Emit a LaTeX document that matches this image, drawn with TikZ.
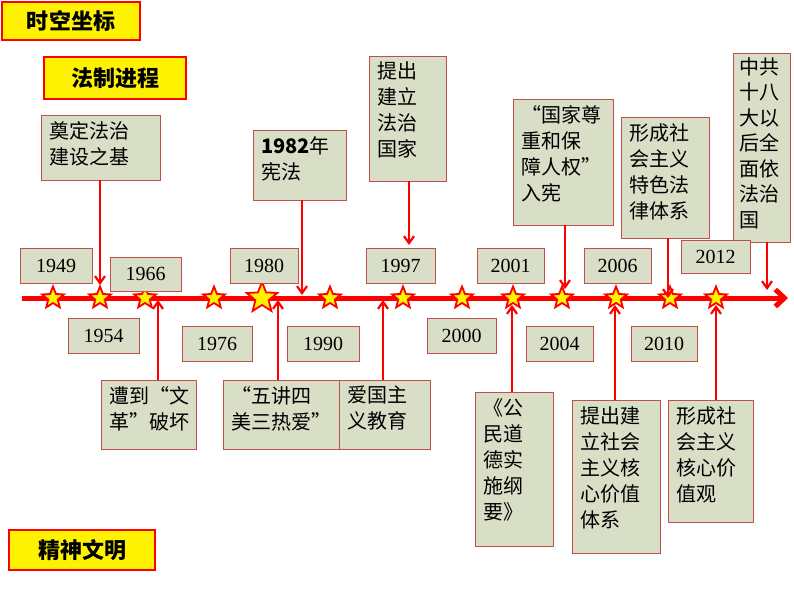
\documentclass[tikz,border=0pt]{standalone}
\usepackage{fontspec}
\setmainfont{Liberation Serif}
\newfontfamily\cjk{Noto Sans CJK SC}
\usetikzlibrary{shapes.geometric,arrows.meta}
\definecolor{boxfill}{HTML}{D8DFC6}
\definecolor{boxline}{HTML}{C0504D}
\definecolor{tlred}{HTML}{FF0000}
\tikzset{
 x=1pt,y=-1pt,
 tbox/.style={draw=boxline,fill=boxfill,line width=0.8pt,inner sep=0pt},
 hbox/.style={draw=tlred,fill=yellow,line width=1.5pt,inner sep=0pt},
 ttext/.style={anchor=north west,align=left,font=\cjk\fontsize{20}{26}\selectfont,inner sep=0pt},
 ytext/.style={font=\fontsize{20}{22}\selectfont,inner sep=0pt},
 htext/.style={font=\cjk\bfseries\fontsize{22}{26}\selectfont,inner sep=0pt},
 arr/.style={draw=tlred,line width=2.2pt,-{Straight Barb[length=7pt,width=10pt]}},
 star5/.style={star,star points=5,star point ratio=2.3,fill=yellow,draw=tlred,line width=1.8pt,inner sep=0pt,minimum size=#1},
}
\newcommand{\tb}[6]{\draw[tbox] (#2,#3) rectangle (#4,#5); \node[ttext] (#1) at ({#2+8},{#3+6}) {#6};}
\newcommand{\yb}[6]{\draw[tbox] (#2,#3) rectangle (#4,#5); \node[ytext] (#1) at ({(#2+#4)/2},{(#3+#5)/2}) {#6};}
\begin{document}
\begin{tikzpicture}
\useasboundingbox (0,0) rectangle (794,596);
\fill[white] (0,0) rectangle (794,596);
% headers
\draw[hbox] (2,2) rectangle (140,40); \node[htext] (h1) at (71,21) {时空坐标};
\draw[hbox] (44,57) rectangle (186,99); \node[htext] (h2) at (115,78) {法制进程};
\draw[hbox] (9,530) rectangle (155,570); \node[htext] (h3) at (82,550) {精神文明};
% timeline
\coordinate (tl0) at (22,298); \coordinate (tl1) at (788,298);
\draw[draw=tlred,line width=5pt,-{Straight Barb[length=9pt,width=17pt]}] (tl0) -- (tl1);
% stars
\foreach \x/\n in {53/a,100/b,145/c,214/d,330/f,403/g,462/h,513/i,562/j,616/k,670/l,716/m}
  \node[star5=23pt] (s\n) at (\x,298) {};
\node[star5=32pt] (se) at (262,298) {};
% top boxes
\tb{t1}{41}{115}{160}{180}{奠定法治\\建设之基}
\draw[tbox] (253,130) rectangle (346,200);
\node[ttext] (t2) at (261,136) {{\bfseries 1982}年\\宪法};
\tb{t3}{369}{56}{446}{181}{提出\\建立\\法治\\国家}
\tb{t4}{513}{99}{613}{225}{“国家尊\\重和保\\障人权”\\入宪}
\tb{t5}{621}{117}{709}{238}{形成社\\会主义\\特色法\\律体系}
\draw[tbox] (733,53) rectangle (790,242);
\node[ttext,font=\cjk\fontsize{20}{25.5}\selectfont] (t6) at (739,57) {中共\\十八\\大以\\后全\\面依\\法治\\国};
% years
\yb{y1}{20}{248}{92}{283}{1949}
\yb{y2}{110}{257}{181}{291}{1966}
\yb{y3}{230}{248}{298}{283}{1980}
\yb{y4}{366}{248}{435}{283}{1997}
\yb{y5}{477}{248}{544}{283}{2001}
\yb{y6}{584}{248}{651}{283}{2006}
\yb{y7}{681}{240}{750}{273}{2012}
\yb{y8}{68}{318}{139}{353}{1954}
\yb{y9}{182}{326}{252}{361}{1976}
\yb{y10}{287}{326}{359}{361}{1990}
\yb{y11}{427}{318}{496}{353}{2000}
\yb{y12}{526}{326}{593}{361}{2004}
\yb{y13}{631}{326}{697}{361}{2010}
% bottom boxes
\tb{b1}{101}{380}{196}{449}{遭到“文\\革”破坏}
\tb{b2}{223}{380}{341}{449}{“五讲四\\美三热爱”}
\tb{b3}{339}{380}{430}{449}{爱国主\\义教育}
\tb{b4}{475}{392}{553}{546}{《公\\民道\\德实\\施纲\\要》}
\tb{b5}{572}{400}{660}{553}{提出建\\立社会\\主义核\\心价值\\体系}
\tb{b6}{668}{400}{753}{522}{形成社\\会主义\\核心价\\值观}
% arrows top -> line
\coordinate (p1) at (100,180); \coordinate (q1) at (100,285);
\coordinate (p2) at (302,200); \coordinate (q2) at (302,295);
\coordinate (p3) at (409,181); \coordinate (q3) at (409,245);
\coordinate (p4) at (565,225); \coordinate (q4) at (565,289);
\coordinate (p5) at (668,238); \coordinate (q5) at (668,298);
\coordinate (p6) at (767,242); \coordinate (q6) at (767,290);
\foreach \i in {1,...,6} \draw[arr] (p\i) -- (q\i);
% arrows bottom -> line
\coordinate (r1) at (158,380); \coordinate (u1) at (158,300);
\coordinate (r2) at (278,380); \coordinate (u2) at (278,300);
\coordinate (r3) at (383,380); \coordinate (u3) at (383,300);
\coordinate (r4) at (512,392); \coordinate (u4) at (512,305);
\coordinate (r5) at (615,400); \coordinate (u5) at (615,305);
\coordinate (r6) at (716,400); \coordinate (u6) at (716,305);
\foreach \i in {1,...,6} \draw[arr] (r\i) -- (u\i);
\end{tikzpicture}
\end{document}
